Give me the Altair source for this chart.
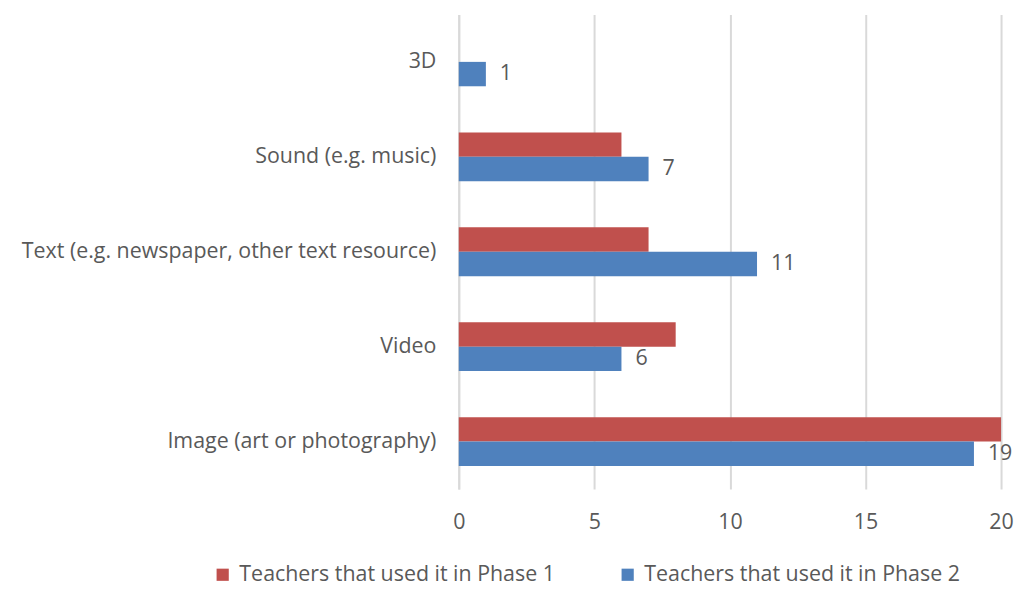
import altair as alt
import pandas as pd

categories = ["3D", "Sound (e.g. music)", "Text (e.g. newspaper, other text resource)", "Video", "Image (art or photography)"]
series = ["Teachers that used it in Phase 1", "Teachers that used it in Phase 2"]
phase1 = [0, 6, 7, 8, 20]
phase2 = [1, 7, 11, 6, 19]
ticks = [0, 5, 10, 15, 20]

rows = []
for c, a, b in zip(categories, phase1, phase2):
    rows.append({"cat": c, "series": series[0], "value": a})
    rows.append({"cat": c, "series": series[1], "value": b})
df = pd.DataFrame(rows)

FONT = "Open Sans"
FS = 21.5
GREY = "#595959"

y = alt.Y("cat:N", sort=categories,
          scale=alt.Scale(paddingInner=0.486, paddingOuter=0.243),
          axis=alt.Axis(title=None, labelFont=FONT, labelFontSize=FS, labelColor=GREY,
                        ticks=False, domain=True, domainColor="#d9d9d9", domainWidth=2,
                        labelPadding=23, labelLimit=600))
x = alt.X("value:Q", scale=alt.Scale(domain=[0, 20], nice=False),
          axis=alt.Axis(title=None, values=ticks, labelFont=FONT, labelFontSize=FS,
                        labelColor=GREY, ticks=False, domain=False, grid=True,
                        gridColor="#d9d9d9", gridWidth=2, labelPadding=23,
                        labelFlush=False))

bars = alt.Chart(df).mark_bar().encode(
    y=y, x=x,
    yOffset=alt.YOffset("series:N", sort=series),
    color=alt.Color("series:N", sort=series,
                    scale=alt.Scale(domain=series, range=["#C0504D", "#4F81BD"]),
                    legend=alt.Legend(title=None, orient="none", direction="horizontal",
                                      legendX=-248, legendY=552, labelFont=FONT,
                                      labelFontSize=FS, labelColor=GREY, symbolType="square",
                                      symbolSize=150, columnPadding=62, padding=0,
                                      labelOffset=6, labelLimit=500)),
)

labels = alt.Chart(df).transform_filter(
    alt.datum.series == series[1]
).mark_text(align="left", baseline="middle", dx=14, font=FONT, fontSize=FS, color=GREY).encode(
    y=alt.Y("cat:N", sort=categories),
    x=alt.X("value:Q"),
    yOffset=alt.YOffset("series:N", sort=series, scale=alt.Scale(domain=series)),
    text=alt.Text("value:Q"),
)

chart = alt.layer(bars, labels).properties(
    width=545, height=477,
    autosize=alt.AutoSizeParams(type="none"),
    padding={"left": 453, "top": 5, "right": 13, "bottom": 99},
).configure_view(stroke=None)

chart.save("out.html", embed_options={"renderer": "svg", "actions": False})
